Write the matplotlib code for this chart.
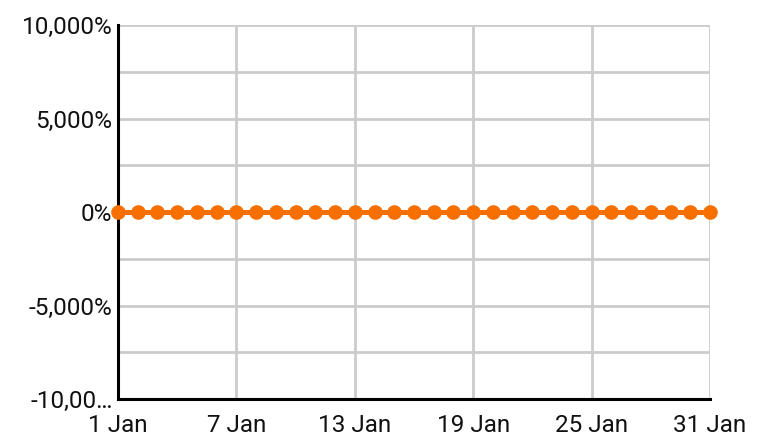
import numpy as np
import matplotlib.pyplot as plt
from matplotlib.ticker import FixedLocator

plt.rcParams['font.family'] = ['Roboto', 'DejaVu Sans']

# Data
days = list(range(1, 32))
values = [0] * 31  # percent change per day
x_ticks = [1, 7, 13, 19, 25, 31]
x_labels = [f"{d} Jan" for d in x_ticks]
y_ticks = [-10000, -5000, 0, 5000, 10000]
y_labels = ["-10,00\u2026", "-5,000%", "0%", "5,000%", "10,000%"]
y_minor = [-7500, -2500, 2500, 7500]

fig = plt.figure(figsize=(7.63, 4.38), dpi=100)
ax = fig.add_axes([118 / 763, 1 - 399 / 438, (710 - 118) / 763, (399 - 25) / 438])

ax.plot(days, values, color='#F76F00', linewidth=3.6, marker='o',
        markersize=9.5, zorder=5, clip_on=False)

ax.set_xlim(1, 31)
ax.set_ylim(-10000, 10000)
ax.set_xticks(x_ticks)
ax.set_xticklabels(x_labels)
ax.set_yticks(y_ticks)
ax.set_yticklabels(y_labels)
ax.yaxis.set_minor_locator(FixedLocator(y_minor))

ax.grid(True, which='both', color='#CCCCCC', linewidth=2)
ax.set_axisbelow(True)

for side in ['top', 'right']:
    ax.spines[side].set_visible(False)
for side in ['left', 'bottom']:
    ax.spines[side].set_color('black')
    ax.spines[side].set_linewidth(2.2)

ax.tick_params(axis='both', which='both', length=0, labelsize=17.5, colors='#111111')
ax.tick_params(axis='x', pad=11)
ax.tick_params(axis='y', pad=4)

fig.savefig('out.png', dpi=100)
